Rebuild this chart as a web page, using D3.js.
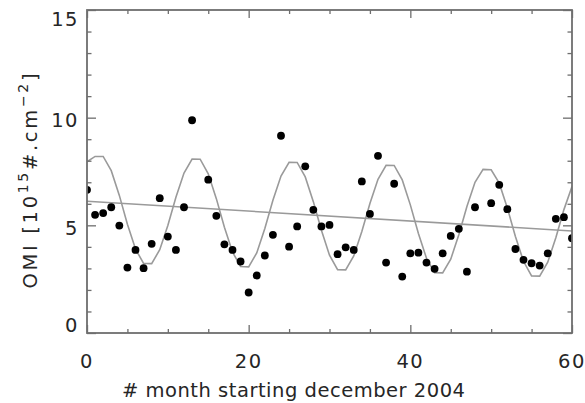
<!DOCTYPE html>
<html>
<head>
<meta charset="utf-8">
<script src="https://cdn.jsdelivr.net/npm/d3@7/dist/d3.min.js"></script>
<style>
  html, body { margin: 0; padding: 0; background: #fff; }
  svg { display: block; }
  text { font-family: "DejaVu Sans", "Liberation Sans", sans-serif; fill: #262626; }
</style>
</head>
<body>
<svg id="chart" width="585" height="403"></svg>
<script>
// ---- data ----
const obsMonths = [0,1,2,3,4,5,6,7,8,9,10,11,12,13,15,16,17,18,19,20,21,22,23,24,25,26,27,28,29,30,
  31,32,33,34,35,36,37,38,39,40,41,42,43,44,45,46,47,48,50,51,52,53,54,55,56,57,58,59,60];
const obsValues = [6.65,5.49,5.57,5.84,4.99,3.04,3.86,3.01,4.14,6.26,4.48,3.86,5.84,9.88,7.12,5.44,4.12,3.86,3.32,1.88,
  2.67,3.60,4.56,9.16,4.01,4.95,7.74,5.72,4.95,5.02,3.66,3.98,3.86,7.04,5.53,8.23,3.27,6.93,2.62,3.70,
  3.73,3.27,2.98,3.70,4.51,4.84,2.85,5.84,6.03,6.88,5.75,3.90,3.40,3.24,3.13,3.70,5.30,5.38,4.40];

const fitMonths = d3.range(0, 61);
const fitValues = [7.95,8.20,8.20,7.54,6.39,5.05,3.90,3.23,3.22,3.87,4.99,6.30,7.43,8.08,8.07,7.39,6.24,4.91,3.76,3.09,
  3.07,3.72,4.85,6.16,7.29,7.93,7.92,7.25,6.10,4.77,3.61,2.94,2.93,3.58,4.71,6.01,7.14,7.79,7.78,7.11,
  5.95,4.62,3.47,2.80,2.79,3.43,4.56,5.87,7.00,7.60,7.58,6.96,5.81,4.48,3.33,2.65,2.64,3.29,4.42,5.73,6.80];

const trendMonths = [0, 60];
const trendValues = [6.12, 4.74];

const xTickLabels = [0, 20, 40, 60];
const yTickLabels = [0, 5, 10, 15];

// ---- layout ----
const svg = d3.select("#chart");
const pL = 87, pR = 572, pT = 10, pB = 333;
const x = d3.scaleLinear().domain([0, 60]).range([pL, pR]);
const y = d3.scaleLinear().domain([0, 15]).range([pB, pT]);
const axisColor = "#6e6e6e";
const lineColor = "#9a9a9a";

svg.append("defs").append("clipPath").attr("id", "clip")
  .append("rect").attr("x", pL).attr("y", pT).attr("width", pR - pL).attr("height", pB - pT);

const plot = svg.append("g").attr("clip-path", "url(#clip)");

// fitted seasonal curve
plot.append("path")
  .datum(fitMonths.map((m, i) => [m, fitValues[i]]))
  .attr("fill", "none").attr("stroke", lineColor).attr("stroke-width", 1.6)
  .attr("d", d3.line().x(d => x(d[0])).y(d => y(d[1])));

// linear trend
plot.append("path")
  .datum(trendMonths.map((m, i) => [m, trendValues[i]]))
  .attr("fill", "none").attr("stroke", lineColor).attr("stroke-width", 1.6)
  .attr("d", d3.line().x(d => x(d[0])).y(d => y(d[1])));

// observations
plot.selectAll("circle.obs").data(obsMonths.map((m, i) => [m, obsValues[i]]))
  .enter().append("circle").attr("class", "obs")
  .attr("cx", d => x(d[0])).attr("cy", d => y(d[1])).attr("r", 3.9)
  .attr("fill", "#000");

// ---- axes with inward ticks ----
function styleAxis(g) {
  g.select(".domain").remove();
  g.selectAll("line").attr("stroke", axisColor).attr("stroke-width", 1.3);
  g.selectAll("text").remove();
}
const xMajor = [0, 20, 40, 60], xMinor = d3.range(5, 60, 5).filter(v => v % 20 !== 0);
const yMajor = [0, 5, 10, 15], yMinor = d3.range(1, 15).filter(v => v % 5 !== 0);

svg.append("g").attr("transform", `translate(0,${pB})`)
  .call(d3.axisBottom(x).tickValues(xMajor).tickSize(-8)).call(styleAxis);
svg.append("g").attr("transform", `translate(0,${pB})`)
  .call(d3.axisBottom(x).tickValues(xMinor).tickSize(-4)).call(styleAxis);
svg.append("g").attr("transform", `translate(0,${pT})`)
  .call(d3.axisTop(x).tickValues(xMajor).tickSize(-8)).call(styleAxis);
svg.append("g").attr("transform", `translate(0,${pT})`)
  .call(d3.axisTop(x).tickValues(xMinor).tickSize(-4)).call(styleAxis);
svg.append("g").attr("transform", `translate(${pL},0)`)
  .call(d3.axisLeft(y).tickValues(yMajor).tickSize(-9)).call(styleAxis);
svg.append("g").attr("transform", `translate(${pL},0)`)
  .call(d3.axisLeft(y).tickValues(yMinor).tickSize(-4.5)).call(styleAxis);
svg.append("g").attr("transform", `translate(${pR},0)`)
  .call(d3.axisRight(y).tickValues(yMajor).tickSize(-9)).call(styleAxis);
svg.append("g").attr("transform", `translate(${pR},0)`)
  .call(d3.axisRight(y).tickValues(yMinor).tickSize(-4.5)).call(styleAxis);

// frame
svg.append("rect").attr("x", pL).attr("y", pT).attr("width", pR - pL).attr("height", pB - pT)
  .attr("fill", "none").attr("stroke", axisColor).attr("stroke-width", 1.8);

// tick labels
svg.selectAll("text.xl").data(xTickLabels).enter().append("text").attr("class", "xl")
  .attr("x", d => x(d)).attr("y", 368).attr("text-anchor", "middle")
  .attr("font-size", 19.5).attr("letter-spacing", 1.5).text(d => d);

const yLabelShift = {0: -1, 5: 10, 10: 9, 15: 16};
svg.selectAll("text.yl").data(yTickLabels).enter().append("text").attr("class", "yl")
  .attr("x", 79).attr("y", d => y(d) + yLabelShift[d]).attr("text-anchor", "end")
  .attr("font-size", 19.5).attr("letter-spacing", 1.5).text(d => d);

// axis titles
svg.append("text").attr("x", 293.5).attr("y", 397).attr("text-anchor", "middle")
  .attr("font-size", 19.5).attr("textLength", 343).attr("lengthAdjust", "spacing")
  .text("# month starting december 2004");

const yt = svg.append("text").attr("transform", "translate(37,181) rotate(-90)")
  .attr("text-anchor", "middle").attr("font-size", 19.5)
  .attr("textLength", 215).attr("lengthAdjust", "spacing");
yt.append("tspan").text("OMI  [10");
yt.append("tspan").attr("dy", -9).attr("font-size", 14).text("15");
yt.append("tspan").attr("dy", 9).text("#.cm");
yt.append("tspan").attr("dy", -9).attr("font-size", 14).text("−2");
yt.append("tspan").attr("dy", 9).text("]");
</script>
</body>
</html>
